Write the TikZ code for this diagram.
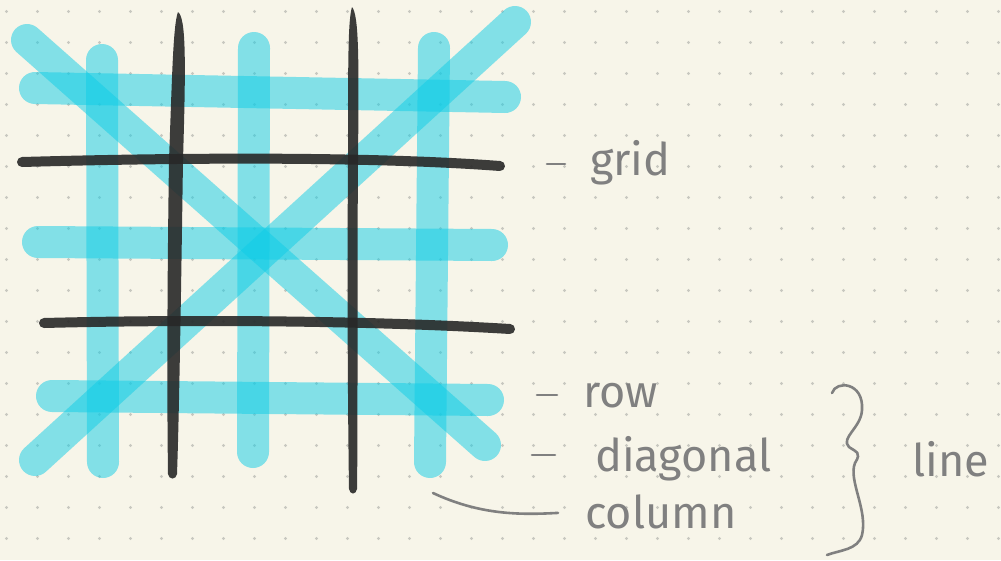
\documentclass[tikz,border=0pt]{standalone}
\usepackage{fontspec}
\setmainfont{Fira Sans}
\definecolor{paper}{RGB}{247,245,233}
\definecolor{dotgray}{RGB}{200,200,192}
\definecolor{marker}{RGB}{15,205,230}
\definecolor{ink}{RGB}{40,40,40}
\definecolor{pencil}{RGB}{128,128,128}
\begin{document}
\begin{tikzpicture}[x=1pt, y=-1pt, line cap=round, line join=round,
  hilite/.style={draw=marker, line width=32pt, opacity=0.5},
  gridline/.style={draw=ink, line width=10pt, opacity=0.9},
  gridfill/.style={fill=ink, opacity=0.9},
  pen/.style={draw=pencil, line width=2.6pt},
  note/.style={text=pencil, font=\fontsize{45}{50}\selectfont, anchor=base west, inner sep=0pt}]
  % paper and dots
  \fill[paper] (0,0) rectangle (1001,560);
  \useasboundingbox (0,0) rectangle (1001,560);
  \foreach \i in {0,...,32}
    \foreach \j in {0,...,17}
      \fill[dotgray] (6.5+31*\i,11.5+31*\j) circle (1.6);
  % rows
  \draw[hilite] (35,88) -- (505,97);
  \draw[hilite] (38,242) -- (492,245);
  \draw[hilite] (52,396) -- (488,400);
  % columns
  \draw[hilite] (102,60) -- (103,462);
  \draw[hilite] (254,48) -- (253,452);
  \draw[hilite] (434,48) -- (430,462);
  % diagonals
  \draw[hilite] (27,40) -- (485,445);
  \draw[hilite] (515,22) -- (35,460);
  % grid
  \draw[gridline] (22,162) .. controls (200,157) and (380,157) .. (500,166);
  \draw[gridline] (44,323) .. controls (200,319) and (380,321) .. (510,329);
  \path[gridfill] (178,12) .. controls (186,18) and (186,60) .. (183,160)
    .. controls (181,300) and (179,420) .. (177,474)
    .. controls (176,480) and (169,480) .. (168,474)
    .. controls (167,400) and (167,300) .. (169,160)
    .. controls (172,80) and (173,25) .. (178,12) -- cycle;
  \path[gridfill] (352,7) .. controls (359,15) and (359,60) .. (358,160)
    .. controls (357,300) and (358,420) .. (357,489)
    .. controls (356,495) and (350,495) .. (349,489)
    .. controls (348,420) and (347,300) .. (348,160)
    .. controls (348,60) and (348,20) .. (352,7) -- cycle;
  % labels
  \draw[pen] (547,164) -- (565,164);
  \node[note] (grid) at (590,175) {grid};
  \draw[pen] (537,395) -- (557,395);
  \node[note] (row) at (583,407) {row};
  \draw[pen] (532,455) -- (555,455);
  \node[note] (diag) at (595,471) {diagonal};
  \node[note] (col) at (585,528) {column};
  \coordinate (colfoot) at (433,493);
  \draw[pen, shorten >=27pt] (colfoot) .. controls (480,515) and (520,515) .. (col.west);
  % brace
  \draw[pen] (832,393) .. controls (836,380) and (864,382) .. (862,410)
    .. controls (861,428) and (840,438) .. (849,447)
    .. controls (856,452) and (862,452) .. (855,463)
    .. controls (848,480) and (868,510) .. (862,535)
    .. controls (858,550) and (840,550) .. (827,555);
  \node[note] (line) at (912,476) {line};
\end{tikzpicture}
\end{document}
